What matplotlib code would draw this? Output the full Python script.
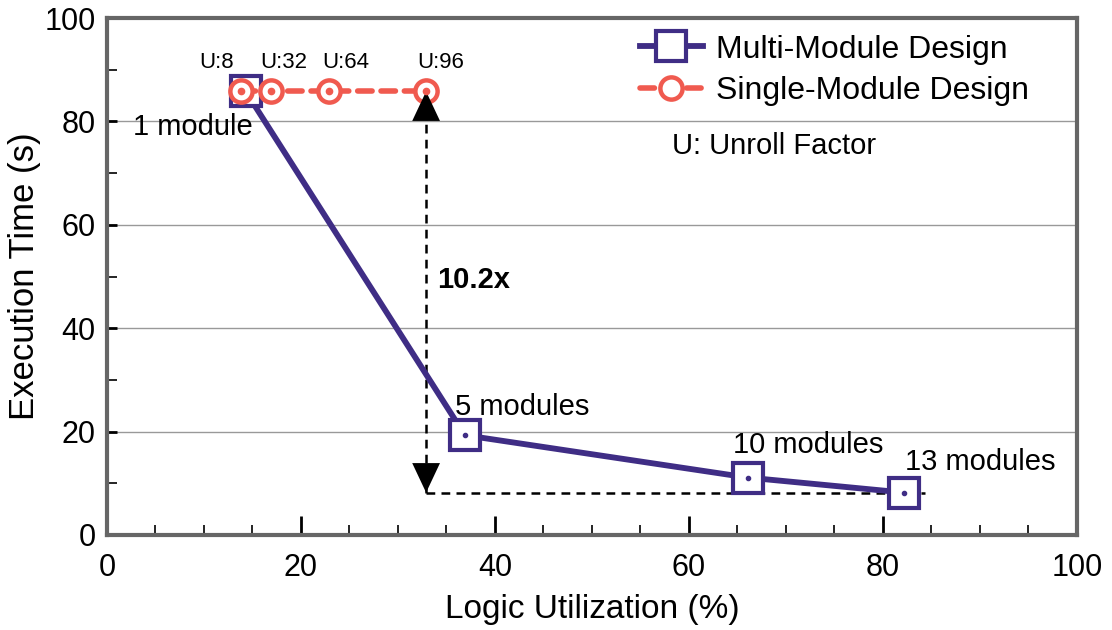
import matplotlib
matplotlib.use("Agg")
import matplotlib.pyplot as plt
from matplotlib.ticker import MultipleLocator

# data
multi_util = [14.3, 36.9, 66.1, 82.2]
multi_time = [85.8, 19.3, 11.1, 8.2]
multi_labels = ["1 module", "5 modules", "10 modules", "13 modules"]

single_util = [13.8, 16.9, 22.9, 32.9]
single_time = [85.8, 85.8, 85.8, 85.8]
unroll = ["U:8", "U:32", "U:64", "U:96"]

purple = "#3f2d85"
red = "#f05a4f"

plt.rcParams['font.family'] = ['Liberation Sans', 'DejaVu Sans']

fig = plt.figure(figsize=(11.12, 6.3), dpi=100)
ax = fig.add_axes([0.0962, 0.1508, 0.8723, 0.8206])

ax.plot(single_util, single_time, color=red, lw=4, ls=(0, (2.6, 1.6)),
        dash_capstyle="round", marker="o", ms=16, mfc="white", mec=red,
        mew=3.2, zorder=4, label="Single-Module Design")
ax.plot(single_util, single_time, ls="none", marker="o", ms=4.5, color=red, zorder=6)

ax.plot(multi_util, multi_time, color=purple, lw=4.2,
        marker="s", ms=22, mfc="white", mec=purple, mew=3, zorder=3,
        label="Multi-Module Design")
ax.plot(multi_util, multi_time, ls="none", marker="o", ms=3, color=purple, zorder=3.5)

# unroll factor labels (x shift of each label from its marker)
u_shift = [-2.5, 1.3, 1.7, 1.5]
for x, y, t, dx in zip(single_util, single_time, unroll, u_shift):
    ax.text(x + dx, y + 4.5, t, fontsize=16, ha="center", va="baseline")

# module labels
offsets = [(-11.6, -8.4), (-1.0, 3.9), (-1.6, 4.8), (0.1, 4.4)]
for x, y, t, (dx, dy) in zip(multi_util, multi_time, multi_labels, offsets):
    ax.text(x + dx, y + dy, t, fontsize=21, ha="left", va="baseline")

# speedup annotation
xa = single_util[-1]
ylo = multi_time[-1]
yhi = single_time[-1]
dash = (0, (3.5, 2.5))
ax.plot([xa, xa], [ylo, yhi], color="black", lw=1.8, ls=dash, zorder=2)
ax.plot([xa, 84.3], [ylo, ylo], color="black", lw=1.8, ls=dash, zorder=2)
head = dict(arrowstyle="-|>,head_length=0.85,head_width=0.4", lw=0,
            color="black", mutation_scale=25, shrinkA=0, shrinkB=0)
ax.annotate("", xy=(xa, yhi), xytext=(xa, yhi - 6), arrowprops=head, zorder=5)
ax.annotate("", xy=(xa, ylo), xytext=(xa, ylo + 6), arrowprops=head, zorder=5)
ax.text(34.0, 49.3, "10.2x", fontsize=21, fontweight="bold", va="center")

ax.text(58.2, 75.2, "U: Unroll Factor", fontsize=21, va="center")

ax.set_xlim(0, 100)
ax.set_ylim(0, 100)
ax.xaxis.set_major_locator(MultipleLocator(20))
ax.xaxis.set_minor_locator(MultipleLocator(5))
ax.yaxis.set_major_locator(MultipleLocator(20))
ax.yaxis.set_minor_locator(MultipleLocator(10))
ax.tick_params(which="major", direction="in", length=14, width=2, labelsize=22, pad=8)
ax.tick_params(axis="x", which="major", pad=13)
ax.tick_params(which="minor", direction="in", length=7, width=1.2)
ax.tick_params(axis="y", which="major", length=7)
ax.grid(axis="y", which="major", color="#999999", lw=1)
for s in ax.spines.values():
    s.set_color("#666666")
    s.set_linewidth(3)

ax.set_xlabel("Logic Utilization (%)", fontsize=24, labelpad=8)
ax.set_ylabel("Execution Time (s)", fontsize=25)
ax.yaxis.set_label_coords(-0.068, 0.5)

h, l = ax.get_legend_handles_labels()
ax.legend(h[::-1], l[::-1], loc="upper left", bbox_to_anchor=(0.549, 0.968),
          fontsize=23, frameon=False, handlelength=2.0, handletextpad=0.4,
          borderpad=0, borderaxespad=0, labelspacing=0.35)

fig.savefig("out.png", dpi=100)
